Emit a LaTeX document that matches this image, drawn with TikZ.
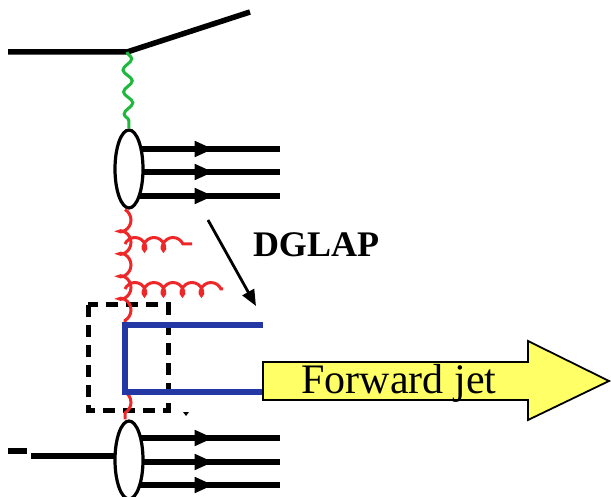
\documentclass[tikz,border=0pt]{standalone}
\usepackage{fontspec}
\setmainfont{Liberation Serif}
\usetikzlibrary{arrows.meta,decorations.pathmorphing,decorations.markings,shapes.geometric}
\definecolor{gluonred}{RGB}{238,40,40}
\definecolor{photongreen}{RGB}{30,185,60}
\definecolor{quarkblue}{RGB}{35,55,165}
\definecolor{jetyellow}{RGB}{255,255,102}
\tikzset{
  fermion/.style={line width=5.5pt},
  hadron/.style={line width=5.5pt, postaction={decorate},
    decoration={markings, mark=at position 0.56 with {\arrow{Triangle[length=19pt,width=15pt]}}}},
  blob/.style={ellipse, draw, line width=3.2pt, fill=white, minimum width=28pt, minimum height=78pt, inner sep=0pt},
  photon/.style={draw=photongreen, line width=3pt, decorate, decoration={snake, amplitude=4.5pt, segment length=22pt}},
  gluon/.style={draw=gluonred, line width=3pt, decorate, decoration={coil, aspect=0.8, amplitude=6.5pt, segment length=19pt}},
  vgluon/.style={gluon, decoration={coil, aspect=0.8, amplitude=6pt, segment length=22.5pt}},
  quark/.style={draw=quarkblue, line width=5.5pt},
  box/.style={line width=5pt, dash pattern=on 12pt off 8pt},
  label/.style={font=\bfseries\fontsize{36}{36}\selectfont, inner sep=0pt},
  jettext/.style={font=\fontsize{42}{42}\selectfont, inner sep=0pt},
}
\begin{document}
\begin{tikzpicture}[x=1pt,y=-1pt]
\useasboundingbox (0,0) rectangle (611,497);
% dashed box
\draw[box] (88,305) rectangle (168,410);
% top lepton
\coordinate (lin) at (8,52);
\coordinate (v) at (127,52);
\coordinate (lout) at (250,12);
\draw[fermion] (lin) -- (v) -- (lout);
% upper hadron lines
\coordinate (c1) at (129,169);
\coordinate (a1) at (280,149);
\coordinate (a2) at (280,172);
\coordinate (a3) at (280,196);
\draw[hadron] (c1 |- a1) -- (a1);
\draw[hadron] (c1 |- a2) -- (a2);
\draw[hadron] (c1 |- a3) -- (a3);
\node[blob] (h1) at (c1) {};
% photon
\draw[photon] (v) -- (h1.north);
% lower hadron
\coordinate (c2) at (129,460);
\coordinate (b1) at (280,438);
\coordinate (b2) at (280,462);
\coordinate (b3) at (280,485);
\coordinate (pin) at (31,456);
\coordinate (m1) at (8,451);
\coordinate (m2) at (27,451);
\draw[fermion] (m1) -- (m2);
\draw[fermion] (pin) -- (c2 |- pin);
\draw[hadron] (c2 |- b1) -- (b1);
\draw[hadron] (c2 |- b2) -- (b2);
\draw[hadron] (c2 |- b3) -- (b3);
\node[blob] (h2) at (c2) {};
% quark box
\coordinate (q1) at (125,325);
\coordinate (q2) at (125,392);
\coordinate (j1) at (263,325);
\coordinate (j2) at (263,392);
% gluon ladder
\draw[vgluon] (h1.south -| q1) -- (q1);
\draw[vgluon] (q2) -- (h2.north -| q2);
\coordinate (g1s) at (125,244);
\coordinate (g1e) at (192,244);
\coordinate (g2s) at (125,289);
\coordinate (g2e) at (223,289);
\draw[gluon] (g1s) -- (g1e);
\draw[gluon] (g2s) -- (g2e);
\draw[quark] (j1) -- (q1) -- (q2) -- (j2);
% DGLAP
\node[label] (dglap) at (316,245) {DGLAP};
\coordinate (d1) at (208,220);
\coordinate (d2) at (256,306);
\draw[line width=2.8pt, -{Triangle[length=16pt,width=13pt]}] (d1) -- (d2);
% forward jet arrow
\draw[fill=jetyellow, line width=1.8pt, line join=miter]
  (263,362) -- (528,362) -- (528,341) -- (609,381) -- (528,420) -- (528,400) -- (263,400) -- cycle;
\node[jettext] (fj) at (399,383) {Forward jet};
\fill (183,412) -- (189,412) -- (186,416) -- cycle;
\end{tikzpicture}
\end{document}
